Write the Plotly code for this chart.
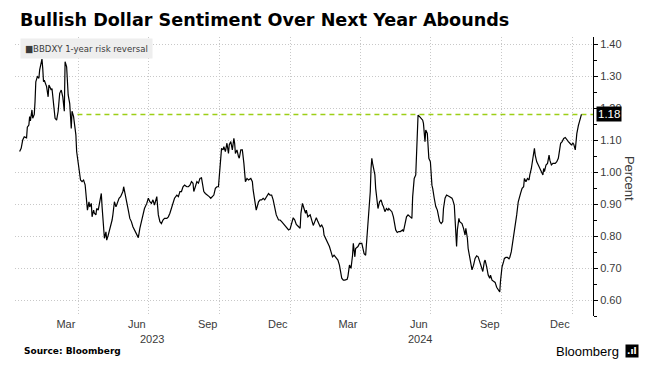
import pandas as pd
import plotly.graph_objects as go

# ---------------- data ----------------
start_date = "2023-01-15"
day_offsets = [
    0, 2, 4, 6, 9, 10, 12, 13, 14, 16, 17, 19, 20, 21, 23, 25, 26, 29, 30, 31,
    32, 34, 35, 37, 38, 39, 41, 42, 44, 46, 48, 50, 52, 54, 56, 58, 59, 61, 63, 64,
    65, 67, 68, 70, 71, 73, 74, 76, 77, 79, 81, 83, 85, 87, 88, 90, 91, 93, 94, 96,
    97, 99, 100, 102, 104, 106, 107, 109, 110, 112, 113, 115, 117, 118, 120, 121, 123, 125, 127, 129,
    131, 132, 134, 135, 139, 141, 143, 145, 147, 149, 152, 154, 156, 158, 160, 162, 165, 167, 169, 171,
    173, 175, 178, 180, 182, 184, 186, 188, 191, 193, 195, 197, 199, 201, 204, 206, 208, 210, 212, 214,
    217, 219, 221, 223, 225, 226, 228, 230, 232, 234, 236, 238, 239, 241, 244, 246, 248, 250, 252, 254,
    256, 258, 260, 262, 264, 265, 267, 269, 271, 272, 274, 276, 278, 279, 280, 282, 284, 285, 287, 289,
    291, 293, 295, 297, 300, 302, 303, 305, 307, 310, 312, 314, 316, 318, 320, 323, 325, 327, 329, 331,
    333, 336, 338, 340, 342, 344, 346, 349, 351, 353, 355, 357, 359, 362, 364, 365, 367, 369, 371, 372,
    374, 377, 379, 381, 383, 385, 387, 390, 392, 394, 395, 397, 400, 402, 404, 406, 408, 410, 413, 415,
    416, 418, 420, 422, 425, 426, 428, 430, 432, 433, 435, 436, 439, 441, 444, 446, 447, 449, 451, 453,
    455, 456, 457, 458, 460, 461, 462, 464, 465, 467, 469, 471, 472, 474, 476, 478, 479, 481, 483, 485,
    486, 488, 490, 492, 494, 497, 498, 500, 502, 504, 507, 509, 510, 512, 514, 515, 517, 519, 521, 523,
    524, 526, 527, 529, 531, 533, 535, 536, 538, 540, 542, 543, 545, 547, 549, 550, 552, 554, 556, 558,
    561, 562, 564, 565, 567, 568, 570, 571, 574, 576, 578, 579, 581, 582, 584, 587, 589, 591, 593, 595,
    597, 600, 601, 603, 604, 606, 608, 610, 611, 613, 615, 617, 619, 621, 623, 624, 626, 628, 629, 631,
    633, 635, 636, 638, 640, 642, 643, 645, 647, 648, 650, 652, 654, 655, 657, 659, 661, 662, 664, 666,
    668, 669, 671, 673, 675, 677, 679, 680, 681, 683, 685, 687, 688, 690, 692, 694, 695, 697, 699, 700,
    702, 704, 706, 708, 710, 712, 714, 716, 718, 719, 721, 723, 725, 727, 729,
]
risk_reversal = [
    1.064, 1.074, 1.100, 1.110, 1.107, 1.140, 1.147, 1.173, 1.160, 1.194, 1.168, 1.180, 1.220, 1.282, 1.298, 1.293, 1.319, 1.353, 1.324, 1.282,
    1.287, 1.272, 1.267, 1.235, 1.272, 1.267, 1.256, 1.261, 1.214, 1.168, 1.162, 1.190, 1.246, 1.256, 1.235, 1.190, 1.345, 1.329, 1.241, 1.230,
    1.214, 1.136, 1.190, 1.173, 1.152, 1.116, 1.064, 1.032, 1.001, 0.975, 0.970, 0.975, 0.960, 0.918, 0.881, 0.907, 0.891, 0.902, 0.860, 0.881,
    0.871, 0.866, 0.886, 0.881, 0.913, 0.933, 0.891, 0.824, 0.793, 0.813, 0.787, 0.803, 0.819, 0.834, 0.850, 0.866, 0.907, 0.891, 0.902, 0.918,
    0.923, 0.928, 0.939, 0.954, 0.897, 0.881, 0.855, 0.845, 0.829, 0.819, 0.808, 0.795, 0.824, 0.845, 0.866, 0.886, 0.902, 0.918, 0.907, 0.902,
    0.913, 0.897, 0.923, 0.866, 0.845, 0.839, 0.850, 0.855, 0.855, 0.860, 0.871, 0.886, 0.902, 0.918, 0.928, 0.923, 0.939, 0.939, 0.954, 0.959,
    0.954, 0.954, 0.959, 0.970, 0.965, 0.939, 0.954, 0.970, 0.965, 0.980, 0.982, 0.959, 0.939, 0.933, 0.928, 0.923, 0.918, 0.923, 0.928, 0.949,
    0.954, 0.954, 1.032, 1.074, 1.069, 1.079, 1.064, 1.090, 1.058, 1.085, 1.095, 1.069, 1.105, 1.090, 1.058, 1.069, 1.048, 1.043, 1.069, 1.069,
    1.027, 0.970, 0.980, 0.975, 0.980, 0.970, 0.944, 0.918, 0.881, 0.907, 0.913, 0.913, 0.918, 0.913, 0.923, 0.933, 0.928, 0.928, 0.913, 0.892,
    0.866, 0.850, 0.850, 0.845, 0.839, 0.836, 0.829, 0.819, 0.822, 0.845, 0.857, 0.850, 0.836, 0.829, 0.824, 0.871, 0.902, 0.886, 0.871, 0.881,
    0.860, 0.866, 0.850, 0.833, 0.845, 0.857, 0.845, 0.829, 0.834, 0.824, 0.803, 0.793, 0.782, 0.767, 0.751, 0.735, 0.740, 0.735, 0.725, 0.709,
    0.689, 0.668, 0.662, 0.662, 0.665, 0.674, 0.709, 0.699, 0.740, 0.777, 0.735, 0.761, 0.767, 0.777, 0.777, 0.750, 0.745, 0.740, 0.803, 0.855,
    0.939, 1.011, 1.043, 1.027, 1.006, 0.991, 0.949, 0.902, 0.886, 0.907, 0.913, 0.897, 0.892, 0.876, 0.886, 0.881, 0.886, 0.881, 0.876, 0.860,
    0.845, 0.819, 0.811, 0.814, 0.814, 0.819, 0.814, 0.840, 0.860, 0.866, 0.860, 0.855, 0.923, 0.980, 0.991, 1.069, 1.178, 1.173, 1.168, 1.162,
    1.152, 1.095, 1.131, 1.121, 1.043, 1.032, 0.959, 0.949, 0.918, 0.892, 0.881, 0.866, 0.845, 0.839, 0.845, 0.886, 0.918, 0.928, 0.926, 0.923,
    0.918, 0.913, 0.897, 0.850, 0.767, 0.819, 0.855, 0.845, 0.839, 0.824, 0.803, 0.824, 0.793, 0.761, 0.735, 0.694, 0.709, 0.730, 0.738, 0.735,
    0.720, 0.694, 0.689, 0.720, 0.725, 0.704, 0.678, 0.668, 0.678, 0.662, 0.657, 0.655, 0.640, 0.630, 0.625, 0.660, 0.704, 0.720, 0.730, 0.733,
    0.733, 0.729, 0.733, 0.751, 0.782, 0.824, 0.834, 0.866, 0.907, 0.918, 0.933, 0.949, 0.954, 0.980, 0.970, 0.980, 0.975, 0.991, 1.011, 1.043,
    1.074, 1.053, 1.032, 1.022, 1.011, 1.001, 0.991, 1.011, 1.001, 1.022, 1.027, 1.053, 1.037, 1.022, 1.027, 1.027, 1.027, 1.032, 1.043, 1.058,
    1.090, 1.095, 1.105, 1.108, 1.100, 1.095, 1.090, 1.085, 1.090, 1.087, 1.069, 1.120, 1.145, 1.162, 1.180,
]
series_name = "BBDXY 1-year risk reversal"
last_value = 1.18
ref_line_dates = ["2023-03-31", "2025-01-28"]

x_range = ["2023-01-09", "2025-01-28"]
y_range = [0.55, 1.422]
y_ticks = [0.60, 0.70, 0.80, 0.90, 1.00, 1.10, 1.20, 1.30, 1.40]
month_tick_dates = ["2023-03-16", "2023-06-16", "2023-09-16", "2023-12-16",
                    "2024-03-16", "2024-06-16", "2024-09-16", "2024-12-16"]
month_tick_labels = ["Mar", "Jun", "Sep", "Dec", "Mar", "Jun", "Sep", "Dec"]
quarter_grid_dates = ["2023-04-01", "2023-07-01", "2023-10-01", "2024-01-01",
                      "2024-04-01", "2024-07-01", "2024-10-01", "2025-01-01"]
year_label_dates = ["2023-07-06", "2024-06-18"]
year_labels = ["2023", "2024"]

title_text = "Bullish Dollar Sentiment Over Next Year Abounds"
source_text = "Source: Bloomberg"
y_title = "Percent"

# ---------------- figure ----------------
dates = pd.Timestamp(start_date) + pd.to_timedelta(day_offsets, unit="D")

FONT = "Liberation Sans, Arial, sans-serif"
BOLD = "DejaVu Sans, sans-serif"
TXT = "#3a3a3a"
GRID = "#c8c8c8"
GRIDDASH = "1px,2px"

fig = go.Figure()
fig.add_trace(go.Scatter(
    x=pd.to_datetime(ref_line_dates), y=[last_value] * len(ref_line_dates),
    mode="lines", line=dict(color="#9ccf16", width=1.6, dash="5px,4px"),
    hoverinfo="skip", showlegend=False,
))
fig.add_trace(go.Scatter(
    x=dates, y=risk_reversal, mode="lines", name=series_name,
    line=dict(color="#000000", width=1.2), showlegend=False,
))

annotations = []
for d, lbl in zip(year_label_dates, year_labels):
    annotations.append(dict(x=d, xref="x", y=0, yref="paper", yanchor="top",
                            yshift=-15, text=lbl, showarrow=False,
                            font=dict(family=FONT, size=11, color=TXT)))
annotations += [
    dict(x=0, xref="paper", xshift=5, xanchor="left", y=1, yref="paper",
         yanchor="top", yshift=-1, text="■BBDXY 1-year risk reversal",
         showarrow=False, bgcolor="#eeeeee", borderpad=4,
         font=dict(family="DejaVu Sans Condensed, DejaVu Sans, sans-serif", size=9.5, color=TXT)),
    dict(x=1, xref="paper", xanchor="center", xshift=36, y=0.495, yref="paper",
         yanchor="middle", text=y_title, textangle=90, showarrow=False,
         font=dict(family=FONT, size=13, color=TXT)),
    dict(x=1, xref="paper", xanchor="left", xshift=3, y=last_value, yref="y",
         text=f"{last_value:.2f}", showarrow=False, bgcolor="#000000", borderpad=1,
         font=dict(family=FONT, size=11.5, color="#ffffff")),
    dict(x=0, xref="paper", xanchor="left", xshift=7, y=0, yref="paper",
         yshift=-35, yanchor="middle", text=f"<b>{source_text}</b>", showarrow=False,
         font=dict(family=BOLD, size=9, color="#000000")),
    dict(x=1, xref="paper", xanchor="right", xshift=28, y=0, yref="paper",
         yshift=-35, yanchor="middle", text="Bloomberg", showarrow=False,
         font=dict(family=FONT, size=13, color="#000000")),
    dict(x=1, xref="paper", xanchor="left", xshift=32, y=0, yref="paper",
         yshift=-35, yanchor="middle", text="<b>.ıl</b>", showarrow=False,
         bgcolor="#000000", borderpad=1,
         font=dict(family="DejaVu Sans, sans-serif", size=9, color="#ffffff")),
]

fig.update_layout(
    width=655, height=375,
    margin=dict(l=15, r=62, t=37, b=59),
    paper_bgcolor="#ffffff", plot_bgcolor="#ffffff",
    title=dict(text=f"<b>{title_text}</b>", x=20 / 655, xanchor="left",
               y=1 - 20 / 375, yanchor="middle",
               font=dict(family=BOLD, size=17.6, color="#000000")),
    xaxis=dict(
        type="date", range=x_range, tickmode="array",
        tickvals=month_tick_dates, ticktext=month_tick_labels,
        showgrid=False, zeroline=False, showline=False, ticks="",
        tickfont=dict(family=FONT, size=11, color=TXT),
        minor=dict(tickmode="array", tickvals=quarter_grid_dates, showgrid=True,
                   gridcolor=GRID, griddash=GRIDDASH, gridwidth=1, ticks=""),
    ),
    yaxis=dict(
        side="right", range=y_range, tickmode="array", tickvals=y_ticks,
        tickformat=".2f", showgrid=True, gridcolor=GRID, griddash=GRIDDASH,
        gridwidth=1, zeroline=False, showline=True, linecolor="#000000",
        linewidth=1, ticks="outside", ticklen=4, tickcolor="#000000",
        tickfont=dict(family=FONT, size=11, color=TXT),
        minor=dict(dtick=0.05, tick0=0.55, ticks="outside", ticklen=3,
                   tickcolor="#000000", showgrid=False),
    ),
    annotations=annotations,
    showlegend=False,
)

fig.write_html("out.html", config={"displayModeBar": False},
               post_script="document.body.style.margin='0';")
